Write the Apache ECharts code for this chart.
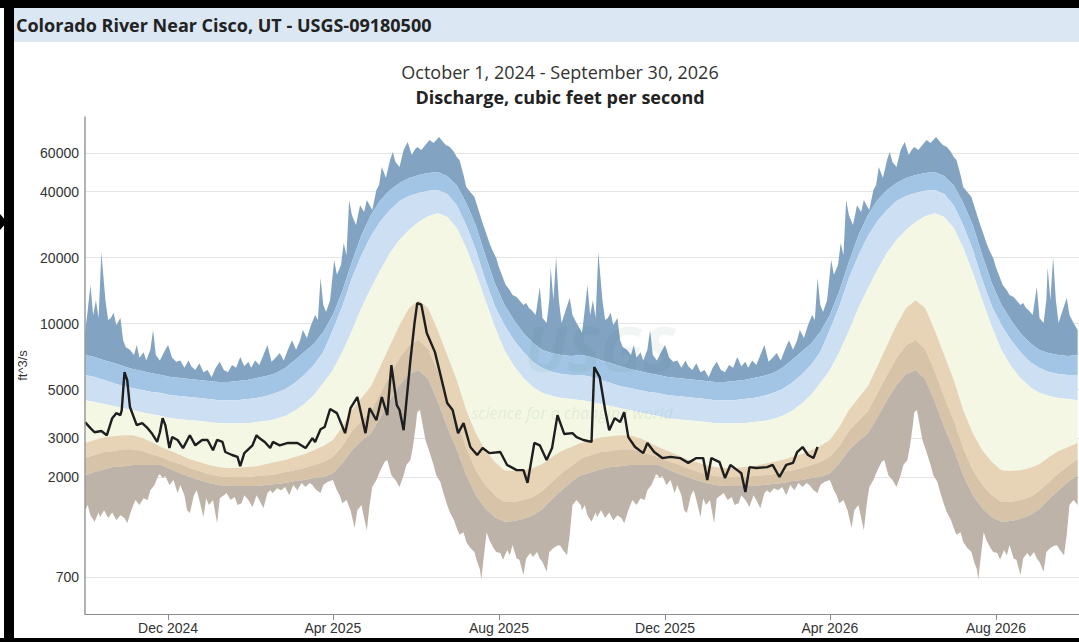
<!DOCTYPE html>
<html>
<head>
<meta charset="utf-8">
<script src="https://cdn.jsdelivr.net/npm/echarts@6/dist/echarts.min.js"></script>
<style>
  html, body { margin: 0; padding: 0; background: #ffffff; }
  #chart { width: 1079px; height: 642px; }
</style>
</head>
<body>
<div id="chart"></div>
<script>
// ---- Daily discharge statistics by day of the water year (0 = Oct 1), cfs ----
const STAT_DAYS = [0, 7, 14, 21, 28, 35, 42, 49, 56, 63, 70, 77, 84, 91, 98, 105, 112, 119, 126, 133,
  140, 147, 154, 161, 168, 175, 182, 189, 196, 203, 210, 217, 224, 231, 238, 245, 252, 259, 266, 273,
  280, 287, 294, 301, 308, 315, 322, 329, 336, 343, 350, 357, 364];

const p95 = [7190, 7040, 6820, 6610, 6410, 6210, 6080, 5950, 5830, 5710, 5650, 5590, 5530, 5480, 5420, 5420,
  5480, 5530, 5650, 5770, 5950, 6280, 6820, 7420, 8070, 9160, 10940, 14100, 19100, 25300, 31300, 36600,
  40700, 43800, 46100, 47600, 48600, 49100, 47100, 42800, 35500, 28100, 20500, 15300, 12200, 10400, 9060,
  8160, 7580, 7340, 7190, 7120, 7190];

const p90 = [5830, 5710, 5530, 5360, 5190, 5090, 4980, 4880, 4830, 4720, 4680, 4630, 4580, 4530, 4480, 4480,
  4480, 4530, 4580, 4680, 4830, 5030, 5360, 5830, 6470, 7420, 9350, 12000, 16100, 20500, 25100, 29400,
  33000, 36200, 38200, 39400, 40300, 40700, 39000, 34700, 28100, 21700, 15800, 12000, 9850, 8420, 7420,
  6680, 6280, 6020, 5890, 5830, 5830];

const p75 = [4480, 4390, 4300, 4210, 4120, 4040, 3950, 3870, 3790, 3710, 3670, 3630, 3600, 3560, 3520, 3520,
  3520, 3520, 3560, 3600, 3670, 3790, 4000, 4300, 4720, 5360, 6140, 7420, 9260, 11800, 14500, 17600,
  21000, 24100, 26700, 29100, 30900, 31900, 30600, 27300, 22100, 17000, 12800, 9650, 7580, 6410, 5650,
  5140, 4830, 4680, 4580, 4530, 4480];

const p25 = [2860, 2950, 3040, 3070, 3100, 3100, 3010, 2890, 2740, 2630, 2520, 2410, 2340, 2270, 2220, 2200,
  2200, 2220, 2240, 2290, 2340, 2390, 2470, 2540, 2650, 2770, 2950, 3380, 4040, 4580, 5190, 6410,
  7980, 9850, 11800, 12800, 11800, 9350, 7190, 5530, 4040, 3170, 2650, 2340, 2150, 2130, 2150,
  2200, 2290, 2470, 2630, 2740, 2860];

const p10 = [2440, 2520, 2600, 2630, 2680, 2680, 2630, 2540, 2470, 2360, 2290, 2200, 2130, 2060, 2020, 2000,
  2000, 2000, 2020, 2040, 2060, 2110, 2150, 2200, 2270, 2340, 2470, 2770, 3240, 3600, 4000, 4830,
  5830, 6970, 7980, 8420, 7660, 6080, 4630, 3630, 2710, 2150, 1840, 1650, 1540, 1540, 1570,
  1620, 1730, 1900, 2080, 2240, 2410];

const p05 = [2040, 2110, 2170, 2220, 2240, 2270, 2270, 2270, 2270, 2170, 2080, 2000, 1940, 1880, 1840, 1820,
  1820, 1820, 1820, 1840, 1860, 1880, 1920, 1940, 1980, 2000, 2080, 2310, 2650, 2920, 3170, 3750,
  4480, 5250, 5890, 6140, 5590, 4440, 3380, 2680, 2040, 1650, 1440, 1310, 1250, 1260, 1290,
  1340, 1430, 1590, 1740, 1900, 2040];

// Daily extremes of record: [day of water year, cfs]
const maxFlow = [[0, 9060], [2, 11500], [4, 15000], [6, 10900], [8, 12800], [10, 10600], [12, 21200], [15, 12800],
  [17, 10400], [19, 10600], [21, 11200], [23, 9850], [26, 10600], [28, 8400], [30, 7800], [33, 7600], [36, 7200],
  [38, 8000], [40, 7000], [43, 7400], [45, 6800], [48, 7600], [50, 9350], [52, 7200], [55, 6800], [58, 7400],
  [61, 8000], [64, 7000], [67, 6700], [70, 6800], [73, 6300], [76, 6800], [78, 6400], [81, 6150], [84, 6600],
  [87, 6000], [90, 6150], [93, 5700], [96, 6300], [99, 6700], [102, 6150], [105, 6000], [108, 6480], [111, 6300],
  [114, 7040], [117, 6400], [120, 6700], [122, 6300], [125, 6800], [128, 6480], [131, 7200], [134, 8000],
  [137, 6700], [140, 7000], [143, 7350], [146, 6800], [149, 7600], [152, 8400], [155, 7600], [158, 8400],
  [160, 9350], [163, 8600], [166, 9850], [169, 10950], [171, 10400], [173, 16140], [175, 12200], [177, 11300],
  [180, 12800], [183, 19500], [185, 16700], [188, 18500], [190, 23300], [192, 20500], [194, 36600], [196, 31300],
  [199, 28200], [202, 34700], [205, 32300], [207, 36600], [209, 34700], [211, 33000], [214, 40700], [216, 42900],
  [218, 51800], [221, 46100], [224, 55700], [226, 60600], [228, 54600], [231, 51800], [234, 61900], [237, 67300],
  [240, 58700], [242, 61900], [244, 63900], [247, 61900], [250, 65200], [253, 68700], [256, 66600], [258, 68700],
  [260, 71000], [263, 67300], [265, 65200], [268, 63900], [271, 60600], [273, 57500], [275, 55700], [278, 47600],
  [280, 42000], [283, 39800], [286, 37800], [289, 33000], [292, 28800], [295, 25400], [297, 23300], [299, 21700],
  [302, 19900], [304, 18100], [307, 16140], [309, 15000], [312, 14200], [314, 13500], [317, 13220], [319, 12800],
  [322, 12160], [324, 12410], [326, 11780], [328, 11500], [331, 10950], [334, 14700], [336, 10600], [339, 10060],
  [341, 12800], [342, 18100], [344, 12800], [346, 20100], [348, 12800], [350, 10060], [353, 11500], [356, 13080],
  [358, 10950], [361, 10060], [364, 9350]];

const minFlow = [[0, 1410], [2, 1490], [4, 1340], [7, 1250], [10, 1380], [11, 1310], [14, 1410], [17, 1300],
  [20, 1380], [23, 1270], [26, 1340], [29, 1300], [31, 1230], [34, 1410], [37, 1570], [40, 1490], [43, 1600],
  [46, 1570], [48, 1740], [51, 1840], [54, 2040], [55, 2060], [57, 1980], [59, 2020], [62, 1840], [65, 1940],
  [68, 1690], [70, 1840], [73, 1650], [75, 1410], [77, 1370], [80, 1650], [82, 1740], [84, 1570], [87, 1310],
  [89, 1600], [91, 1490], [94, 1570], [97, 1230], [99, 1600], [102, 1650], [104, 1690], [107, 1570], [110, 1620],
  [112, 1490], [115, 1520], [117, 1650], [120, 1570], [123, 1460], [126, 1650], [128, 1570], [131, 1440],
  [134, 1690], [136, 1740], [138, 1690], [141, 1780], [144, 1740], [147, 1800], [150, 1650], [153, 1840],
  [156, 1740], [159, 1880], [162, 1800], [165, 1880], [167, 1840], [170, 1740], [173, 1690], [175, 1840],
  [178, 1900], [182, 1940], [185, 1740], [187, 1650], [189, 1520], [192, 1570], [195, 1410], [198, 1170],
  [200, 1410], [203, 1490], [205, 1300], [207, 1140], [209, 1490], [211, 1800], [214, 1940], [217, 2150],
  [220, 2340], [222, 2390], [225, 2040], [228, 1940], [231, 1800], [234, 2040], [236, 2270], [239, 2390],
  [241, 2800], [243, 3450], [244, 3950], [246, 4040], [248, 3450], [250, 2950], [253, 2600], [256, 2270],
  [258, 2040], [261, 1900], [263, 1710], [266, 1490], [268, 1380], [271, 1270], [273, 1170], [275, 1090],
  [278, 1120], [280, 1010], [283, 950], [286, 910], [288, 820], [290, 760], [291, 680], [293, 880], [295, 1120],
  [297, 1030], [300, 950], [302, 910], [305, 900], [307, 840], [310, 930], [312, 880], [314, 980], [317, 850],
  [319, 840], [322, 715], [324, 850], [327, 900], [329, 865], [332, 910], [334, 850], [336, 820], [339, 740],
  [341, 910], [344, 950], [347, 975], [349, 975], [351, 930], [354, 880], [356, 1090], [358, 1490], [361, 1570],
  [364, 1490]];

// Observed discharge: [days since Oct 1, 2024, cfs]
const observed = [[0, 3560], [4, 3340], [7, 3200], [12, 3240], [16, 3100], [20, 3710], [23, 3910], [26, 3830],
  [27, 4040], [29, 6020], [31, 5530], [33, 4170], [38, 3450], [42, 3520], [46, 3340], [49, 3170], [53, 2890],
  [55, 3200], [57, 3710], [59, 3450], [62, 2710], [64, 3040], [68, 2950], [72, 2710], [77, 3100], [81, 2790],
  [86, 2950], [90, 2950], [94, 2650], [97, 2950], [101, 2890], [103, 2600], [108, 2520], [112, 2470], [114, 2240],
  [117, 2570], [123, 2790], [126, 3100], [128, 3010], [132, 2890], [136, 2710], [138, 2890], [143, 2790],
  [149, 2860], [156, 2860], [162, 2710], [167, 3010], [169, 2890], [173, 3300], [176, 3380], [180, 4080],
  [185, 3910], [191, 3170], [195, 4120], [200, 4630], [206, 3170], [209, 4120], [214, 3630], [218, 4630],
  [222, 3830], [225, 6470], [229, 4250], [231, 4040], [234, 3270], [239, 6820], [242, 10060], [244, 12400],
  [247, 12200], [251, 9060], [257, 7420], [262, 5530], [266, 4350], [270, 4040], [274, 3170], [278, 3520],
  [283, 2740], [288, 2520], [292, 2710], [297, 2570], [305, 2600], [310, 2270], [317, 2150], [322, 2150],
  [325, 1880], [330, 2860], [334, 2790], [339, 2390], [343, 2710], [347, 3830], [352, 3140], [358, 3170],
  [361, 3040], [366, 2950], [372, 2890], [374, 6340], [378, 5710], [382, 4040], [385, 3270], [389, 3710],
  [393, 3560], [396, 3950], [399, 3040], [404, 2740], [410, 2570], [413, 2860], [418, 2600], [424, 2440],
  [430, 2470], [437, 2440], [443, 2320], [449, 2440], [454, 2440], [457, 1940], [460, 2440], [466, 2340],
  [470, 1980], [474, 2270], [479, 2150], [482, 2080], [485, 1710], [488, 2220], [493, 2200], [501, 2220],
  [505, 2270], [510, 2000], [515, 2270], [520, 2320], [523, 2600], [527, 2740], [531, 2520], [535, 2440],
  [538, 2740]];

const yTicks = [700, 2000, 3000, 5000, 10000, 20000, 40000, 60000];
const xTickDates = ['2024-12-01', '2025-04-01', '2025-08-01', '2025-12-01', '2026-04-01', '2026-08-01'];
const MONTHS = ['Jan', 'Feb', 'Mar', 'Apr', 'May', 'Jun', 'Jul', 'Aug', 'Sep', 'Oct', 'Nov', 'Dec'];

// ---- helpers ----
const DAY = 86400000;
const START = Date.UTC(2024, 9, 1);
const WATER_YEARS = 2;           // statistics repeat for WY2025 and WY2026
const toT = d => START + d * DAY;
const lg = v => Math.log10(v);

// statistic curve -> points over both water years
function statCurve(vals) {
  const pts = [];
  for (let y = 0; y < WATER_YEARS; y++) {
    STAT_DAYS.forEach((d, i) => pts.push([toT(d + 365 * y), lg(vals[i])]));
  }
  return pts;
}
function pairCurve(pairs) {
  const pts = [];
  for (let y = 0; y < WATER_YEARS; y++) {
    pairs.forEach(p => pts.push([toT(p[0] + 365 * y), lg(p[1])]));
  }
  return pts;
}

const curves = {
  max: pairCurve(maxFlow),
  p95: statCurve(p95),
  p90: statCurve(p90),
  p75: statCurve(p75),
  p25: statCurve(p25),
  p10: statCurve(p10),
  p05: statCurve(p05),
  min: pairCurve(minFlow)
};

// filled band between two curves, placed through the cartesian scales
function band(name, upper, lower, color) {
  return {
    type: 'custom',
    name: name,
    silent: true,
    clip: true,
    z: 2,
    data: [[toT(180), lg(3000)]],
    renderItem: function (params, api) {
      const pts = upper.map(p => api.coord(p));
      for (let i = lower.length - 1; i >= 0; i--) pts.push(api.coord(lower[i]));
      return { type: 'polygon', shape: { points: pts }, style: { fill: color, stroke: null } };
    }
  };
}

const chart = echarts.init(document.getElementById('chart'), null, { renderer: 'svg' });

const yRange = { min: lg(475), max: lg(87500) };
const yTickLog = yTicks.map(lg);
const xTickTimes = xTickDates.map(s => new Date(s + 'T00:00:00Z').getTime());
const labelFont = { fontFamily: 'Liberation Sans, Arial, sans-serif', fontSize: 14, color: '#333333' };

chart.setOption({
  animation: false,
  backgroundColor: '#ffffff',
  grid: { left: 85, right: 0, top: 117, bottom: 28, containLabel: false },
  xAxis: {
    type: 'value',
    min: toT(0),
    max: toT(730),
    axisLine: { show: true, lineStyle: { color: '#8c8c8c', width: 1 } },
    axisTick: { show: true, length: 6, customValues: xTickTimes, lineStyle: { color: '#8c8c8c' } },
    axisLabel: Object.assign({
      customValues: xTickTimes,
      margin: 7,
      formatter: v => { const d = new Date(v); return MONTHS[d.getUTCMonth()] + ' ' + d.getUTCFullYear(); }
    }, labelFont),
    splitLine: { show: false }
  },
  yAxis: [
    {
      // grid lines beneath the percentile bands
      type: 'value', position: 'left', min: yRange.min, max: yRange.max,
      axisLine: { show: false },
      axisTick: { show: false, customValues: yTickLog },
      axisLabel: { show: false, customValues: yTickLog },
      splitLine: { show: true, lineStyle: { color: '#e4e4e4', width: 1 } }
    },
    {
      // axis line, tick labels and unit drawn above the bands
      type: 'value', position: 'left', min: yRange.min, max: yRange.max, z: 10,
      name: 'ft^3/s', nameLocation: 'middle', nameGap: 49, nameRotate: 90,
      nameTextStyle: { fontFamily: 'Liberation Sans, Arial, sans-serif', fontSize: 13, color: '#333333' },
      axisLine: { show: true, lineStyle: { color: '#9a9a9a', width: 1.5 } },
      axisTick: { show: false, customValues: yTickLog },
      axisLabel: Object.assign({
        customValues: yTickLog,
        margin: 6,
        formatter: v => String(Math.round(Math.pow(10, v)))
      }, labelFont),
      splitLine: { show: false }
    }
  ],
  series: [
    band('Max - 95th', curves.max, curves.p95, '#82a3c1'),
    band('95th - 90th', curves.p95, curves.p90, '#a3c5e5'),
    band('90th - 75th', curves.p90, curves.p75, '#cde0f3'),
    band('75th - 25th', curves.p75, curves.p25, '#f3f7e4'),
    band('25th - 10th', curves.p25, curves.p10, '#e7d3b6'),
    band('10th - 5th', curves.p10, curves.p05, '#d6c3a8'),
    band('5th - Min', curves.p05, curves.min, '#bdb3a8'),
    {
      type: 'line',
      name: 'Discharge',
      z: 5,
      showSymbol: false,
      data: observed.map(p => [toT(p[0]), lg(p[1])]),
      lineStyle: { color: '#1e1e1e', width: 2.4 },
      itemStyle: { color: '#1e1e1e' }
    }
  ],
  graphic: [
    // frame
    { type: 'rect', shape: { x: 0, y: 0, width: 1079, height: 8 }, style: { fill: '#000' }, z: 100 },
    { type: 'rect', shape: { x: 4, y: 0, width: 10, height: 642 }, style: { fill: '#000' }, z: 100 },
    { type: 'rect', shape: { x: 0, y: 638, width: 1079, height: 4 }, style: { fill: '#000' }, z: 100 },
    { type: 'polygon', shape: { points: [[0, 214], [7, 222], [0, 230]] }, style: { fill: '#000' }, z: 100 },
    // header bar
    { type: 'rect', shape: { x: 14, y: 8, width: 1065, height: 34 }, style: { fill: '#dbe7f3' }, z: 90 },
    {
      type: 'text', x: 16, y: 25, z: 95,
      style: {
        text: 'Colorado River Near Cisco, UT - USGS-09180500',
        font: 'bold 18px "Open Sans", sans-serif', fill: '#222222',
        textAlign: 'left', textVerticalAlign: 'middle', align: 'left', verticalAlign: 'middle'
      }
    },
    {
      type: 'text', x: 560, y: 72, z: 95,
      style: {
        text: 'October 1, 2024 - September 30, 2026',
        font: '18px "Open Sans", sans-serif', fill: '#333333',
        textAlign: 'center', textVerticalAlign: 'middle', align: 'center', verticalAlign: 'middle'
      }
    },
    {
      type: 'text', x: 560, y: 97, z: 95,
      style: {
        text: 'Discharge, cubic feet per second',
        font: 'bold 18px "Open Sans", sans-serif', fill: '#222222',
        textAlign: 'center', textVerticalAlign: 'middle', align: 'center', verticalAlign: 'middle'
      }
    },
    // faint agency watermark over the plot
    {
      type: 'text', x: 600, y: 348, z: 4, silent: true,
      style: {
        text: 'USGS',
        font: 'italic bold 62px "Open Sans", sans-serif', fill: 'rgba(60,130,110,0.07)',
        textAlign: 'center', textVerticalAlign: 'middle', align: 'center', verticalAlign: 'middle'
      }
    },
    {
      type: 'text', x: 572, y: 413, z: 4, silent: true,
      style: {
        text: 'science for a changing world',
        font: 'italic 16px "Open Sans", sans-serif', fill: 'rgba(60,130,110,0.11)',
        textAlign: 'center', textVerticalAlign: 'middle', align: 'center', verticalAlign: 'middle'
      }
    }
  ]
});
</script>
</body>
</html>
